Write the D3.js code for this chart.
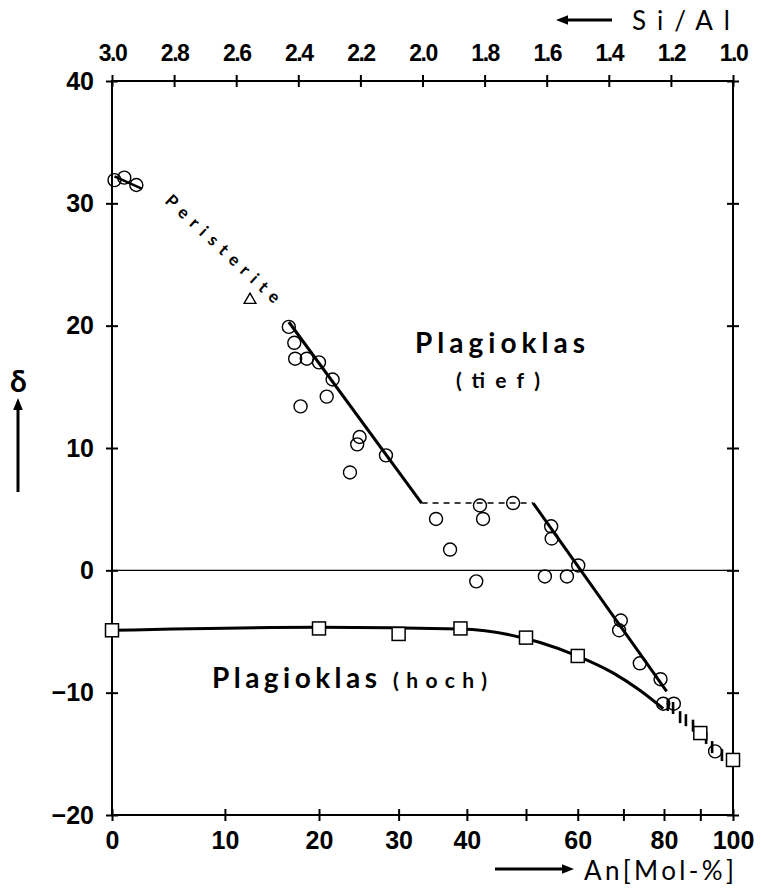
<!DOCTYPE html>
<html>
<head>
<meta charset="utf-8">
<script src="https://cdn.jsdelivr.net/npm/d3@7"></script>
<style>
	body { margin: 0; background: #fff; }
	svg { display: block; font-family: Lato, "DejaVu Sans", sans-serif; }
	.axis path, .axis line { stroke: #000; stroke-width: 2; }
	.axis text { fill: #000; font-weight: bold; }
</style>
</head>
<body>
<div id="chart"></div>
<script>
/* global d3 */

'use strict';

// Tick values.
var siAlTicks = [3.0, 2.8, 2.6, 2.4, 2.2, 2.0, 1.8, 1.6, 1.4, 1.2, 1.0];
var anTicks = [0, 10, 20, 30, 40, 50, 60, 70, 80, 90, 100];
var anTickLabels = ["0", "10", "20", "30", "40", "", "60", "", "80", "", "100"];
var deltaTicks = [-20, -10, 0, 10, 20, 30, 40];

// Low plagioclase measurements (circles).
var tiefAn = [0.2, 1.0, 2.0, 16.6, 17.2, 17.3, 18.6, 20.0, 21.6, 20.9, 17.9, 24.9, 24.6, 23.7, 28.3,
	35.3, 42.1, 42.6, 47.7, 37.4, 41.5, 54.7, 54.8, 53.5, 57.8, 60.1, 69.4, 69.0, 73.9, 79.1, 79.8, 82.6, 94.4];
var tiefDelta = [31.9, 32.1, 31.5, 19.9, 18.6, 17.3, 17.3, 17.0, 15.6, 14.2, 13.4, 10.9, 10.3, 8.0, 9.4,
	4.2, 5.3, 4.2, 5.5, 1.7, -0.9, 3.6, 2.6, -0.5, -0.5, 0.4, -4.1, -4.9, -7.6, -8.9, -10.9, -10.9, -14.8];

// High plagioclase measurements (squares).
var hochAn = [0, 20, 30, 39, 50, 60, 90, 100];
var hochDelta = [-4.9, -4.75, -5.2, -4.75, -5.5, -7.0, -13.3, -15.5];

// Peristerite point (triangle).
var peristeriteAn = [12.5];
var peristeriteDelta = [22.1];

// Trend lines.
var albiteTrend = [[0.2, 32.2], [2.45, 31.2]];
var tiefTrend1 = [[16.6, 20.3], [33.2, 5.5]];
var tiefGap = [[33.2, 5.5], [51.3, 5.5]];
var tiefTrend2 = [[51.3, 5.5], [80.7, -9.9]];
var hochCurve = [[0, -4.9], [20, -4.65], [39, -4.8], [52.6, -5.9], [59.6, -6.95], [67.7, -8.4], [73.9, -9.8], [79.8, -11.3]];
var hatchAn = [81.0, 82.4, 84.3, 85.9, 87.9, 91.7, 93.5, 96.5];
var hatchDelta = [-11.0, -11.25, -12.0, -12.25, -12.7, -13.7, -14.45, -15.1];

var W = 761;
var H = 890;
var margin = {top: 81, right: 28, bottom: 75, left: 112};

var svg = d3.select("#chart").append("svg")
		.attr("width", W)
		.attr("height", H);

// Si/Al is linear across the frame, An follows from it.
var siAl = d3.scaleLinear()
		.domain([3, 1])
		.range([margin.left, W - margin.right]);

/**
 * Si/Al ratio of a plagioclase with the given An content.
 *
 * @param {Number} an An content in mol-%.
 * @returns {Number} Si/Al.
 */
function anToSiAl(an) {
	var a = an / 100;
	return (3 - a) / (1 + a);
}

function x(an) {
	return siAl(anToSiAl(an));
}

var y = d3.scaleLinear()
		.domain([-20, 40])
		.range([H - margin.bottom, margin.top]);

var x0 = margin.left, x1 = W - margin.right;
var y0 = margin.top, y1 = H - margin.bottom;

// Ticks crossing the axis line on both sides.
function crossTicks(g, horizontal) {
	g.select(".domain").remove();
	g.selectAll(".tick line")
			.attr(horizontal ? "y1" : "x1", -6)
			.attr(horizontal ? "y2" : "x2", 6);
}

// Top axis (Si/Al).
svg.append("g")
		.attr("class", "axis")
		.attr("transform", "translate(0," + y0 + ")")
		.call(d3.axisTop(siAl).tickValues(siAlTicks).tickFormat(d3.format(".1f")).tickPadding(14))
		.call(crossTicks, true)
		.selectAll("text")
		.attr("font-size", 23)
		.attr("letter-spacing", -1.5);

// Bottom axis (An), placed through Si/Al.
svg.append("g")
		.attr("class", "axis")
		.attr("transform", "translate(0," + y1 + ")")
		.call(d3.axisBottom(siAl)
				.tickValues(anTicks.map(anToSiAl))
				.tickFormat(function(d, i) { return anTickLabels[i]; })
				.tickPadding(10))
		.call(crossTicks, true)
		.selectAll("text")
		.attr("font-size", 25);

// Left axis.
svg.append("g")
		.attr("class", "axis")
		.attr("transform", "translate(" + x0 + ",0)")
		.call(d3.axisLeft(y).tickValues(deltaTicks).tickFormat(d3.format("d")).tickPadding(12))
		.call(crossTicks, false)
		.selectAll("text")
		.attr("font-size", 25);

// Right axis, ticks only.
svg.append("g")
		.attr("class", "axis")
		.attr("transform", "translate(" + x1 + ",0)")
		.call(d3.axisRight(y).tickValues(deltaTicks).tickFormat(""))
		.call(crossTicks, false);

// Frame.
svg.append("rect")
		.attr("x", x0)
		.attr("y", y0)
		.attr("width", x1 - x0)
		.attr("height", y1 - y0)
		.attr("fill", "none")
		.attr("stroke", "#000")
		.attr("stroke-width", 2);

// Zero line.
svg.append("line")
		.attr("x1", x0)
		.attr("x2", x1)
		.attr("y1", y(0))
		.attr("y2", y(0))
		.attr("stroke", "#000")
		.attr("stroke-width", 1.3);

var line = d3.line()
		.x(function(d) { return x(d[0]); })
		.y(function(d) { return y(d[1]); });

function drawLine(data, width, dash, curve) {
	svg.append("path")
			.datum(data)
			.attr("d", line.curve(curve || d3.curveLinear)(data))
			.attr("fill", "none")
			.attr("stroke", "#000")
			.attr("stroke-width", width)
			.attr("stroke-dasharray", dash || null);
}

drawLine(albiteTrend, 2.5);
drawLine(tiefTrend1, 3);
drawLine(tiefGap, 1.5, "6,5");
drawLine(tiefTrend2, 3);
drawLine(hochCurve, 3, null, d3.curveMonotoneX);

// Hatched transition towards anorthite.
svg.append("g").selectAll("line")
		.data(hatchAn)
		.enter().append("line")
		.attr("x1", function(d) { return x(d); })
		.attr("x2", function(d) { return x(d); })
		.attr("y1", function(d, i) { return y(hatchDelta[i]) - 6; })
		.attr("y2", function(d, i) { return y(hatchDelta[i]) + 6; })
		.attr("stroke", "#000")
		.attr("stroke-width", 2.6);

// Circles.
svg.append("g").selectAll("circle")
		.data(tiefAn)
		.enter().append("circle")
		.attr("cx", function(d) { return x(d); })
		.attr("cy", function(d, i) { return y(tiefDelta[i]); })
		.attr("r", 6.5)
		.attr("fill", "none")
		.attr("stroke", "#000")
		.attr("stroke-width", 1.4);

// Squares.
svg.append("g").selectAll("rect")
		.data(hochAn)
		.enter().append("rect")
		.attr("x", function(d) { return x(d) - 6.5; })
		.attr("y", function(d, i) { return y(hochDelta[i]) - 6.5; })
		.attr("width", 13)
		.attr("height", 13)
		.attr("fill", "#fff")
		.attr("stroke", "#000")
		.attr("stroke-width", 1.5);

// Triangle.
svg.append("g").selectAll("path")
		.data(peristeriteAn)
		.enter().append("path")
		.attr("d", d3.symbol().type(d3.symbolTriangle).size(60))
		.attr("transform", function(d, i) { return "translate(" + x(d) + "," + y(peristeriteDelta[i]) + ")"; })
		.attr("fill", "none")
		.attr("stroke", "#000")
		.attr("stroke-width", 1.4);

// Labels.
function label(txt, px, py, size, len, extra) {
	var t = svg.append("text")
			.attr("x", px)
			.attr("y", py)
			.attr("font-size", size)
			.attr("font-weight", "bold")
			.text(txt);
	if (len) {
		t.attr("textLength", len).attr("lengthAdjust", "spacing");
	}
	if (extra) {
		t.attr("transform", extra);
	}
	return t;
}

label("Plagioklas", 415, 353, 28, 170);
label("(tief)", 456, 388, 21, 84);
label("Plagioklas", 212, 688, 28, 165);
label("(hoch)", 393, 688, 21, 94);
label("Peristerite", 0, 0, 17, 150, "translate(164,202) rotate(43)");

// Axis titles with arrows.
svg.append("defs").append("marker")
		.attr("id", "head")
		.attr("viewBox", "0 0 10 10")
		.attr("refX", 5)
		.attr("refY", 5)
		.attr("markerWidth", 4)
		.attr("markerHeight", 4)
		.attr("orient", "auto")
		.append("path")
		.attr("d", "M0,1L10,5L0,9Z")
		.attr("fill", "#000");

function arrow(ax1, ay1, ax2, ay2) {
	svg.append("line")
			.attr("x1", ax1)
			.attr("y1", ay1)
			.attr("x2", ax2)
			.attr("y2", ay2)
			.attr("stroke", "#000")
			.attr("stroke-width", 3)
			.attr("marker-end", "url(#head)");
}

arrow(612, 20, 562, 20);
label("Si/Al", 632, 30, 26, 98).attr("font-weight", "normal");

arrow(495, 869, 568, 869);
label("An[Mol-%]", 584, 880, 26, 150).attr("font-weight", "normal");

arrow(18, 492, 18, 404);
label("δ", 10, 392, 30);
</script>
</body>
</html>
